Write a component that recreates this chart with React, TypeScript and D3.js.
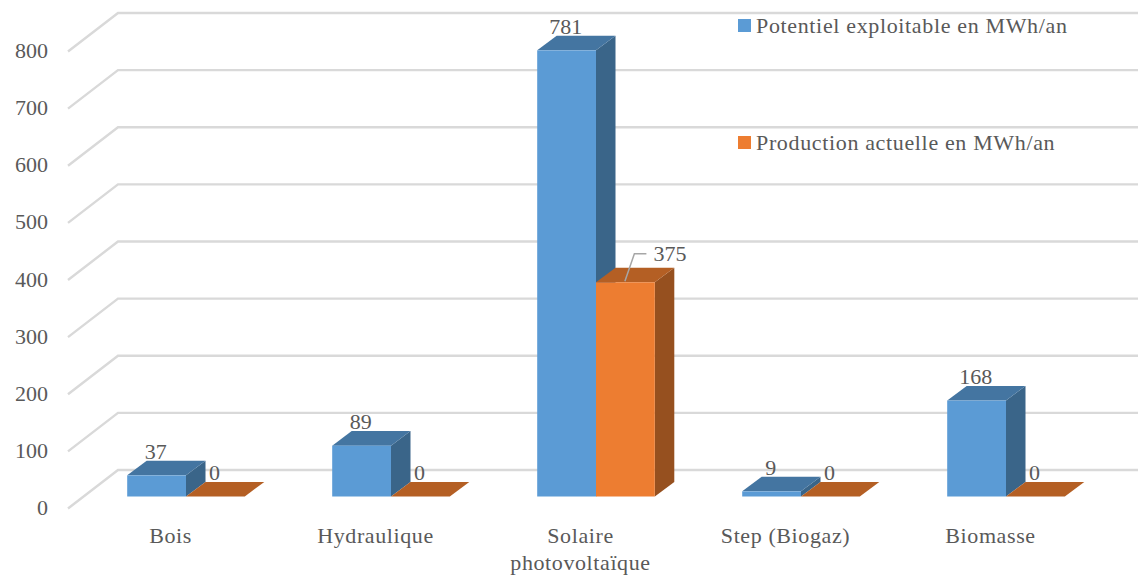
import React from "react";
import * as d3 from "d3";

const categories = ["Bois", "Hydraulique", "Solaire photovoltaïque", "Step (Biogaz)", "Biomasse"];
const categoryLines = [["Bois"], ["Hydraulique"], ["Solaire", "photovoltaïque"], ["Step (Biogaz)"], ["Biomasse"]];
const seriesNames = ["Potentiel exploitable en MWh/an", "Production actuelle en MWh/an"];
const potentiel = [37, 89, 781, 9, 168];
const production = [0, 0, 375, 0, 0];
const yTicks = [0, 100, 200, 300, 400, 500, 600, 700, 800];

const W = 1138, H = 575;
const FONT = "'Liberation Serif', serif";
const TEXT = "#595959";
const y = d3.scaleLinear().domain([0, 800]).range([496.5, 39.5]);
const x = d3.scaleBand<string>().domain(categories).range([83.5, 1108.5]);
const inner = d3.scaleBand<number>().domain([0, 1]).range([0, 117.6]);
const barOffset = (x.bandwidth() - inner.range()[1]) / 2;
const DX = 19.5, DY = -14.6;
const palette = [
  { front: "#5b9bd5", top: "#4475a1", side: "#3a6589" },
  { front: "#ed7d31", top: "#b45f24", side: "#96501f" },
];
const series = [potentiel, production];

const pts = (p: [number, number][]) => p.map((d) => d.join(",")).join(" ");

export default function App() {
  return (
    <svg width={W} height={H} viewBox={`0 0 ${W} ${H}`}
      style={{ position: "absolute", left: 0, top: 0, background: "#fff", fontFamily: FONT }}>
      {yTicks.map((t) => {
        const back = y(t) - 26.5;
        const d = d3.line()([[68, back + 38.5], [118, back], [W, back]]) as string;
        return (
          <g key={t}>
            <path d={d} fill="none" stroke="#d9d9d9" strokeWidth={2.4} />
            <text x={48} y={back + 45} textAnchor="end" fontSize={22} fill={TEXT}>{t}</text>
          </g>
        );
      })}
      {[...categories.keys()].map((c) =>
        [0, 1].map((s) => {
          const v = series[s][c];
          const x0 = (x(categories[c]) as number) + barOffset + (inner(s) as number);
          const x1 = x0 + inner.bandwidth();
          const yt = y(v), yb = y(0);
          const p = palette[s];
          return (
            <g key={`${c}-${s}`}>
              <polygon points={pts([[x1, yt], [x1 + DX, yt + DY], [x1 + DX, yb + DY], [x1, yb]])} fill={p.side} />
              <polygon points={pts([[x0, yt], [x0 + DX, yt + DY], [x1 + DX, yt + DY], [x1, yt]])} fill={p.top} />
              {v > 0 && <rect x={x0} y={yt} width={x1 - x0} height={yb - yt} fill={p.front} />}
            </g>
          );
        })
      )}
      {[...categories.keys()].map((c) =>
        [0, 1].map((s) => {
          const v = series[s][c];
          const x0 = (x(categories[c]) as number) + barOffset + (inner(s) as number);
          const cx = x0 + inner.bandwidth() / 2;
          const top = y(v) + DY;
          if (v === 375) {
            return (
              <g key={`l${c}-${s}`}>
                <path d={`M${cx - 0.5},${y(v) - 1} L${cx + 9},${top - 14} L${cx + 21},${top - 14}`} fill="none" stroke="#a6a6a6" strokeWidth={1.5} />
                <text x={cx + 28} y={top - 7} fontSize={22} fill={TEXT}>{v}</text>
              </g>
            );
          }
          return (
            <text key={`l${c}-${s}`} x={cx - 0.8} y={top - 2} textAnchor="middle" fontSize={22} fill={TEXT}>{v}</text>
          );
        })
      )}
      {categoryLines.map((lines, c) => {
        const cx = (x(categories[c]) as number) + x.bandwidth() / 2 - 15.5;
        return lines.map((l, i) => (
          <text key={l} x={cx} y={543 + i * 27} textAnchor="middle" fontSize={22} letterSpacing={0.6} fill={TEXT}>{l}</text>
        ));
      })}
      {seriesNames.map((n, i) => (
        <g key={n}>
          <rect x={738} y={19 + i * 117} width={13} height={13} fill={palette[i].front} />
          <text x={756} y={33 + i * 117} fontSize={22} letterSpacing={0.65} fill={TEXT}>{n}</text>
        </g>
      ))}
    </svg>
  );
}
